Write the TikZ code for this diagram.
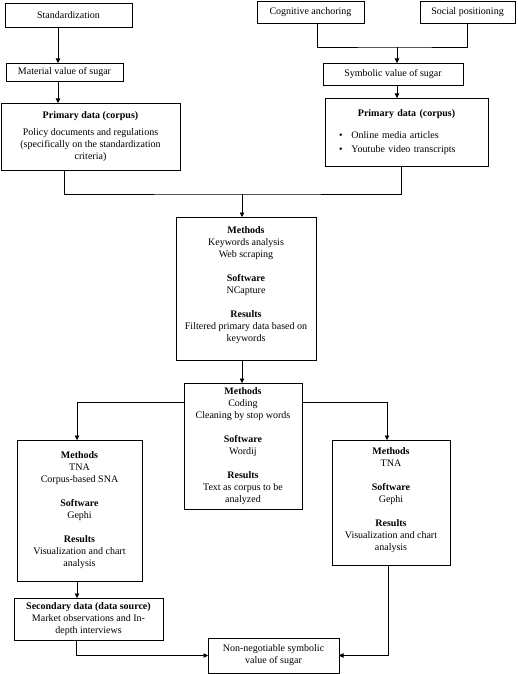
\documentclass[tikz,border=0pt]{standalone}
\usepackage{fontspec}
\setmainfont{Liberation Serif}
\usetikzlibrary{arrows.meta}
\newcommand{\arw}{-{Triangle[length=4.5pt,width=4.5pt]}}
\newcommand{\gap}{\\[12pt]}
\newcommand{\itm}{\hspace*{10pt}\textbullet\hspace{9pt}}

\begin{document}
\begin{tikzpicture}[x=1pt,y=-1pt,line width=0.7pt,
  box/.style={draw,rectangle,inner sep=2pt,outer sep=0pt,align=center,
    font=\fontsize{10}{12}\selectfont}]
\useasboundingbox (0,0) rectangle (517,674);
%material value
\node[box,minimum width=127pt,minimum height=24pt] (std) at (68.5,15) {Standardization};
\node[box,minimum width=117pt,minimum height=18pt] (mat) at (64.5,72) {Material value of sugar};
\node[box,minimum width=179pt,minimum height=67pt] (prim1) at (90.5,136.5)
  {\textbf{Primary data (corpus)}\\[5pt]Policy documents and regulations\\(specifically on the standardization\\criteria)};
%symbolic value
\node[box,minimum width=107pt,minimum height=22pt] (cog) at (310.5,12) {Cognitive anchoring};
\node[box,minimum width=95pt,minimum height=22pt] (soc) at (467.5,12) {Social positioning};
\node[box,minimum width=140pt,minimum height=22pt] (sym) at (393,74) {Symbolic value of sugar};
\node[box,minimum width=163pt,minimum height=68pt,text width=155pt,align=left] (prim2) at (406.5,132)
  {{\centering\textbf{Primary data (corpus)}\par}\vspace{10pt}%
   \itm Online media articles\\[2pt]\itm Youtube video transcripts\\[10pt]};
%methods
\node[box,minimum width=140pt,minimum height=143pt] (m1) at (246,288.5)
  {\textbf{Methods}\\Keywords analysis\\Web scraping\gap\textbf{Software}\\NCapture\gap
   \textbf{Results}\\Filtered primary data based on\\keywords\\[-4pt]};
\node[box,minimum width=118pt,minimum height=126pt] (m2) at (243,446)
  {\textbf{Methods}\\Coding\\Cleaning by stop words\gap\textbf{Software}\\Wordij\gap
   \textbf{Results}\\Text as corpus to be\\analyzed};
\node[box,minimum width=125pt,minimum height=141pt] (m3) at (79.5,510.5)
  {\textbf{Methods}\\TNA\\Corpus-based SNA\gap\textbf{Software}\\Gephi\gap
   \textbf{Results}\\Visualization and chart\\analysis};
\node[box,minimum width=118pt,minimum height=125pt] (m4) at (391,502.5)
  {\textbf{Methods}\\TNA\gap\textbf{Software}\\Gephi\gap
   \textbf{Results}\\Visualization and chart\\analysis\\[-5pt]};
%outcome
\node[box,minimum width=149pt,minimum height=42pt] (sec) at (88.5,619)
  {\textbf{Secondary data (data source)}\\Market observations and In-\\depth interviews};
\node[box,minimum width=131pt,minimum height=35pt] (non) at (273.5,655.5)
  {Non-negotiable symbolic\\value of sugar};
%connectors
\draw[\arw] (std.south -| 58,0) -- (mat.north -| 58,0);
\draw[\arw] (mat.south -| 58,0) -- (prim1.north -| 58,0);
\coordinate (j1) at (397,47);
\draw (cog.south -| 317,0) |- (j1) -| (soc.south);
\draw[\arw] (j1) -- (j1 |- sym.north);
\draw[\arw] (sym.south -| j1) -- (prim2.north -| j1);
\coordinate (j2) at (242,194);
\draw (prim1.south -| 64,0) |- (j2) -| (prim2.south -| 401,0);
\draw[\arw] (j2) -- (j2 |- m1.north);
\draw[\arw] (m1.south -| j2) -- (m2.north -| j2);
\draw[\arw] (m2.west |- 0,402) -| (m3.north -| 77,0);
\draw[\arw] (m2.east |- 0,402) -| (m4.north -| 387,0);
\draw[\arw] (m3.south -| 77,0) -- (sec.north -| 77,0);
\draw[\arw] (sec.south -| 76,0) |- (non.west);
\draw[\arw] (m4.south -| 388,0) |- (non.east);
\end{tikzpicture}
\end{document}
